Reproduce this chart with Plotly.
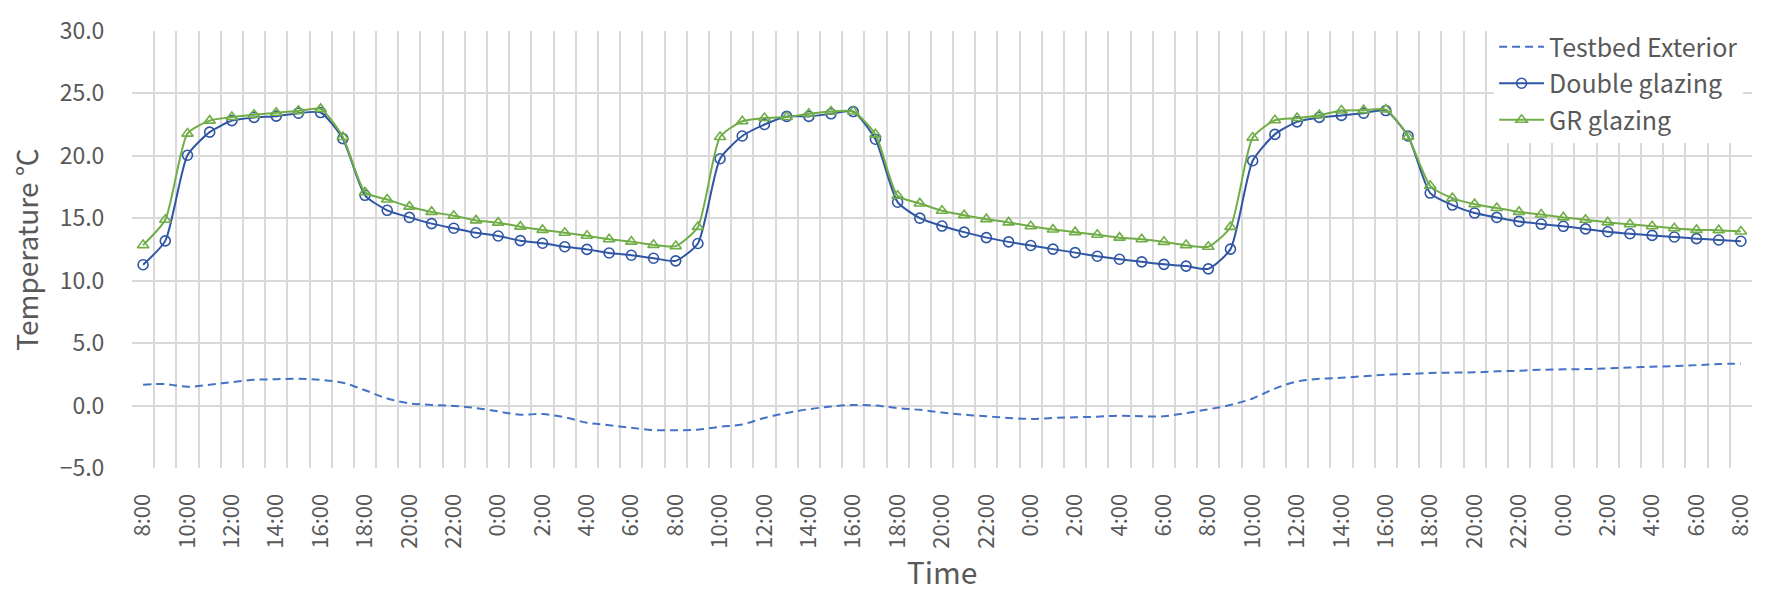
import plotly.graph_objects as go

hours = ["8:00", "9:00", "10:00", "11:00", "12:00", "13:00", "14:00", "15:00", "16:00", "17:00",
         "18:00", "19:00", "20:00", "21:00", "22:00", "23:00", "0:00", "1:00", "2:00", "3:00",
         "4:00", "5:00", "6:00", "7:00",
         "8:00", "9:00", "10:00", "11:00", "12:00", "13:00", "14:00", "15:00", "16:00", "17:00",
         "18:00", "19:00", "20:00", "21:00", "22:00", "23:00", "0:00", "1:00", "2:00", "3:00",
         "4:00", "5:00", "6:00", "7:00",
         "8:00", "9:00", "10:00", "11:00", "12:00", "13:00", "14:00", "15:00", "16:00", "17:00",
         "18:00", "19:00", "20:00", "21:00", "22:00", "23:00", "0:00", "1:00", "2:00", "3:00",
         "4:00", "5:00", "6:00", "7:00", "8:00"]

exterior = [1.67, 1.72, 1.51, 1.67, 1.88, 2.06, 2.11, 2.14, 2.06, 1.83, 1.23, 0.57,
            0.18, 0.05, -0.03, -0.20, -0.47, -0.73, -0.68, -0.94, -1.38, -1.57, -1.78, -1.96,
            -1.98, -1.93, -1.70, -1.51, -0.99, -0.60, -0.29, -0.08, 0.05, 0.00, -0.21, -0.34,
            -0.56, -0.73, -0.86, -0.99, -1.07, -0.99, -0.94, -0.89, -0.81, -0.86, -0.86, -0.60,
            -0.30, 0.05, 0.57, 1.36, 1.93, 2.14, 2.22, 2.35, 2.48, 2.53, 2.61, 2.64,
            2.66, 2.74, 2.79, 2.87, 2.90, 2.92, 2.98, 3.05, 3.11, 3.16, 3.24, 3.32, 3.37]

double_glazing = [11.28, 13.19, 20.05, 21.90, 22.82, 23.08, 23.18, 23.42, 23.47, 21.38, 16.84, 15.64,
                  15.07, 14.57, 14.20, 13.84, 13.58, 13.21, 13.00, 12.72, 12.51, 12.22, 12.04, 11.80,
                  11.59, 12.98, 19.77, 21.59, 22.51, 23.16, 23.16, 23.37, 23.55, 21.33, 16.29, 15.01,
                  14.38, 13.89, 13.45, 13.11, 12.82, 12.53, 12.25, 11.96, 11.72, 11.51, 11.31, 11.17,
                  10.95, 12.53, 19.61, 21.72, 22.72, 23.08, 23.24, 23.42, 23.63, 21.59, 17.02, 16.06,
                  15.42, 15.07, 14.75, 14.54, 14.36, 14.15, 13.92, 13.76, 13.63, 13.50, 13.37, 13.26, 13.16]

gr_glazing = [12.85, 14.88, 21.78, 22.82, 23.11, 23.29, 23.45, 23.60, 23.76, 21.51, 17.08, 16.50,
              15.93, 15.51, 15.20, 14.83, 14.65, 14.33, 14.07, 13.84, 13.60, 13.32, 13.13, 12.87,
              12.77, 14.31, 21.51, 22.77, 23.03, 23.11, 23.37, 23.55, 23.55, 21.72, 16.81, 16.19,
              15.60, 15.25, 14.93, 14.67, 14.36, 14.10, 13.89, 13.68, 13.45, 13.32, 13.11, 12.85,
              12.72, 14.31, 21.46, 22.85, 23.03, 23.26, 23.63, 23.66, 23.71, 21.54, 17.60, 16.61,
              16.13, 15.82, 15.51, 15.30, 15.07, 14.88, 14.67, 14.52, 14.36, 14.20, 14.07, 14.05, 13.94]

y_ticks = [-5, 0, 5, 10, 15, 20, 25, 30]

x_idx = list(range(len(hours)))
label_idx = x_idx[::2]
label_txt = hours[::2]

FONT = "Noto Sans CJK KR, Noto Sans, sans-serif"
TXT = "#595959"

fig = go.Figure()
fig.add_trace(go.Scatter(
    x=x_idx, y=exterior, name="Testbed Exterior", mode="lines", legendgroup="a",
    line=dict(color="#4472C4", width=2, dash="8px,5px", shape="spline", smoothing=1.0),
))
fig.add_trace(go.Scatter(
    x=x_idx, y=double_glazing, name="Double glazing", mode="lines+markers", legendgroup="b",
    line=dict(color="#2F55A4", width=2, shape="spline", smoothing=0.6),
    marker=dict(symbol="circle-open", size=10, color="#2F55A4", line=dict(width=1.6, color="#2F55A4")),
))
fig.add_trace(go.Scatter(
    x=x_idx, y=gr_glazing, name="GR glazing", mode="lines+markers", legendgroup="c",
    line=dict(color="#70AD47", width=2, shape="spline", smoothing=0.6),
    marker=dict(symbol="triangle-up-open", size=10, color="#70AD47", line=dict(width=1.6, color="#70AD47")),
))

fig.update_layout(
    width=1779, height=602,
    margin=dict(l=132, r=27, t=21, b=134),
    paper_bgcolor="white", plot_bgcolor="white",
    font=dict(family=FONT, color=TXT),
    legend=dict(
        x=0.9945, y=1.016, xanchor="right", yanchor="top",
        bgcolor="white", borderwidth=0,
        font=dict(size=25, color=TXT, family=FONT),
        traceorder="grouped", tracegroupgap=1, itemwidth=45,
    ),
    showlegend=True,
)

fig.update_xaxes(
    range=[-0.5, len(hours) - 0.5],
    tickmode="array", tickvals=label_idx, ticktext=label_txt,
    tickangle=-90, tickfont=dict(size=22, color=TXT, family=FONT),
    ticks="outside", ticklen=16, tickcolor="rgba(0,0,0,0)",
    showgrid=False, zeroline=False, showline=False,
    minor=dict(tick0=-0.5, dtick=1, showgrid=True, gridcolor="#D9D9D9", gridwidth=2, ticks=""),
    title=dict(text="Time", font=dict(size=30, color=TXT, family=FONT), standoff=10),
)
fig.update_yaxes(
    range=[-5, 30], tickmode="array", tickvals=y_ticks, tickformat=".1f",
    tickfont=dict(size=23, color=TXT, family=FONT),
    ticks="outside", ticklen=22, tickcolor="rgba(0,0,0,0)",
    showgrid=True, gridcolor="#D9D9D9", gridwidth=2,
    zeroline=False, showline=False,
    title=dict(text="Temperature ℃", font=dict(size=28, color=TXT, family=FONT), standoff=12),
)

fig.write_html("out.html")
